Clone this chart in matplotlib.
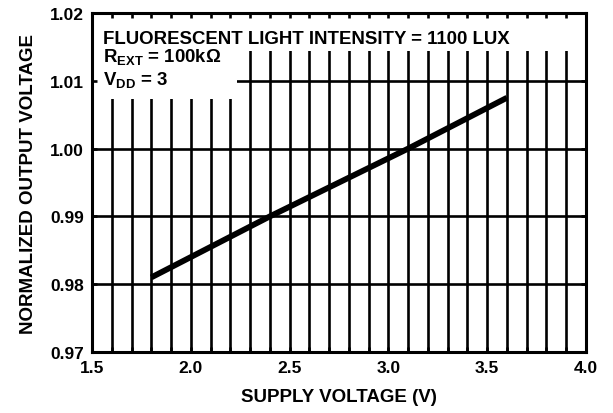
import numpy as np
import matplotlib
matplotlib.use('Agg')
import matplotlib.pyplot as plt
from matplotlib.patches import Rectangle

plt.rcParams['font.family'] = ['Liberation Sans', 'DejaVu Sans']
plt.rcParams['font.weight'] = 'bold'
plt.rcParams['mathtext.fontset'] = 'custom'
plt.rcParams['mathtext.rm'] = 'Liberation Sans:bold'
plt.rcParams['mathtext.bf'] = 'Liberation Sans:bold'
plt.rcParams['mathtext.it'] = 'Liberation Sans:bold'

# data
supply_v = [1.8, 2.4, 3.1, 3.6]
norm_out = [0.981, 0.990, 1.000, 1.0075]

x_ticks = [1.5, 2.0, 2.5, 3.0, 3.5, 4.0]
y_ticks = [0.97, 0.98, 0.99, 1.00, 1.01, 1.02]

fig = plt.figure(figsize=(6.13, 4.14), dpi=100)
ax = fig.add_axes([92/613, 1-353/414, 494/613, 339/414])
ax.set_xlim(1.5, 4.0)
ax.set_ylim(0.97, 1.02)

# grid drawn by hand so the white label boxes can cover it
minor_x = np.arange(1.6, 4.0, 0.1)
ax.vlines(minor_x, 0.97, 1.02, color='black', lw=1.9, zorder=1)
ax.hlines(y_ticks[1:-1], 1.5, 4.0, color='black', lw=1.9, zorder=1)

ax.add_patch(Rectangle((0, 0.888), 1, 0.112, transform=ax.transAxes,
                       facecolor='white', edgecolor='none', zorder=2))
ax.add_patch(Rectangle((0, 0.746), 0.294, 0.25, transform=ax.transAxes,
                       facecolor='white', edgecolor='none', zorder=2))

ax.plot(supply_v, norm_out, color='black', lw=4.2, solid_capstyle='butt', zorder=3)

ax.set_axisbelow(False)
ax.set_xticks(x_ticks)
ax.set_xticklabels(['%.1f' % v for v in x_ticks])
ax.set_xticks(minor_x, minor=True)
ax.set_yticks(y_ticks)
ax.set_yticklabels(['%.2f' % v for v in y_ticks])
ax.tick_params(which='both', direction='in', length=3.5, width=1.9,
               top=True, right=True, labelsize=12.5)
ax.tick_params(axis='x', pad=6)
ax.tick_params(axis='y', pad=6)
for s in ax.spines.values():
    s.set_linewidth(2.2)

ax.set_xlabel('SUPPLY VOLTAGE (V)', fontsize=13.5, fontweight='bold', labelpad=9)
ax.set_ylabel('NORMALIZED OUTPUT VOLTAGE', fontsize=13.5, fontweight='bold', labelpad=9)

ax.text(0.022, 0.912, 'FLUORESCENT LIGHT INTENSITY = 1100 LUX', transform=ax.transAxes,
        fontsize=13.4, fontweight='bold', va='baseline', ha='left', zorder=4)
ax.text(0.022, 0.858, r'R$_{\rm EXT}$ = 100k$\Omega$', transform=ax.transAxes,
        fontsize=13.4, fontweight='bold', va='baseline', ha='left', zorder=4)
ax.text(0.022, 0.790, r'V$_{\rm DD}$ = 3', transform=ax.transAxes,
        fontsize=13.4, fontweight='bold', va='baseline', ha='left', zorder=4)

fig.savefig('out.png', dpi=100)
